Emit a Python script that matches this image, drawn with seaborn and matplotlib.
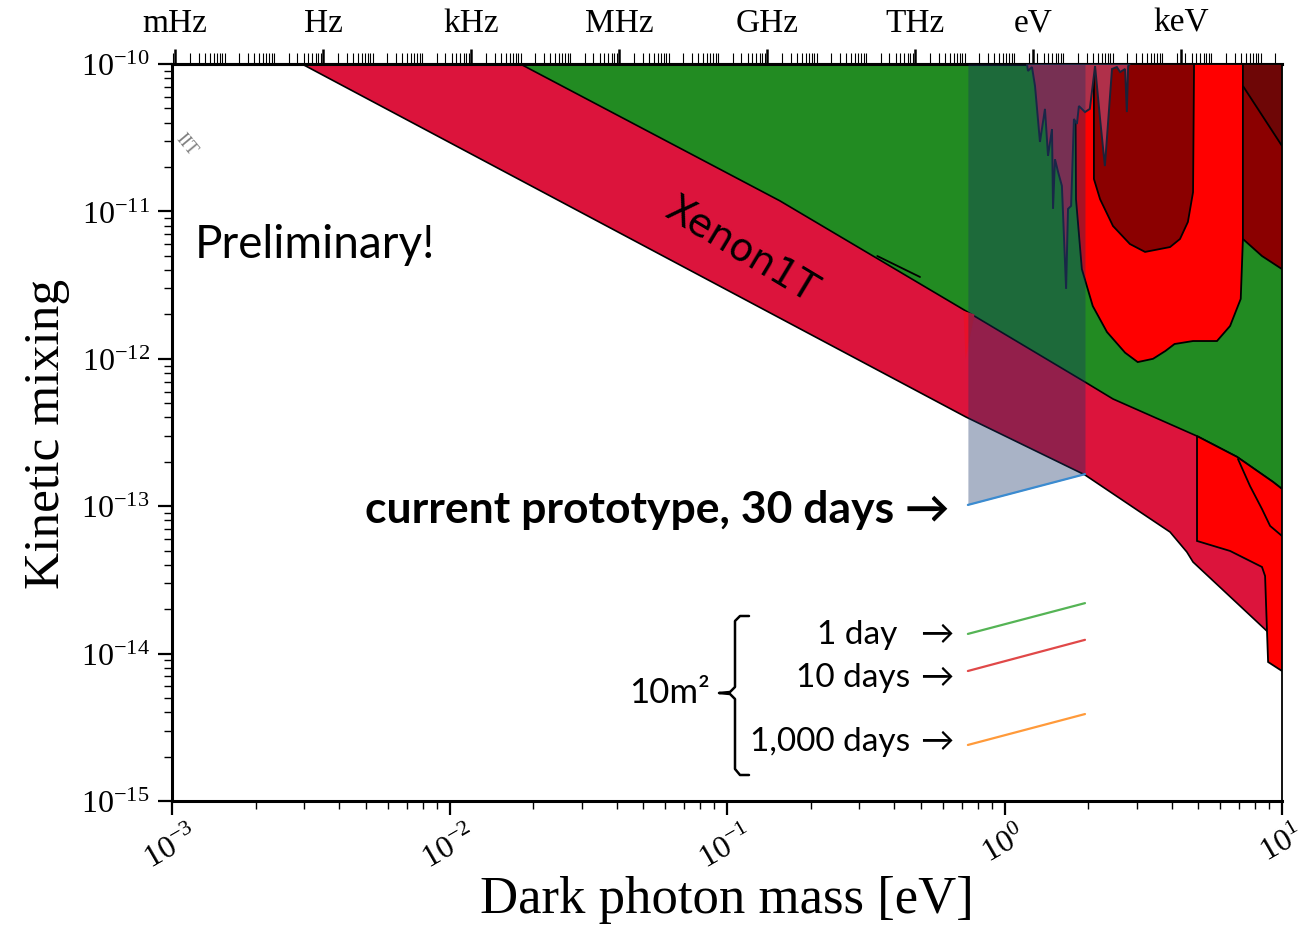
import numpy as np
import matplotlib
matplotlib.use("Agg")
import matplotlib.pyplot as plt
import seaborn as sns
from matplotlib.ticker import FixedLocator, FixedFormatter, LogLocator, NullFormatter

# ---- values (mass in eV, kinetic mixing) ----
# Xenon1T band
xenon_low_m = [2.94e-3, 0.726, 1.95, 3.08, 3.95, 4.54, 4.78, 8.83]
xenon_low_eps = [1e-10, 4.03e-13, 1.63e-13, 9.14e-14, 6.68e-14, 4.89e-14, 4.18e-14, 1.42e-14]
xenon_up_m = [1.80e-2, 0.155, 0.726, 1.95, 2.46, 4.94, 6.89, 9.29, 10.0]
xenon_up_eps = [1e-10, 1.18e-11, 2.11e-12, 6.96e-13, 5.34e-13, 2.99e-13, 2.16e-13, 1.46e-13, 1.31e-13]

# bright red U shaped limit
red_u_m = [1.80, 1.81, 1.90, 2.08, 2.34, 2.72, 3.02, 3.43, 3.80, 4.10, 4.78, 5.83, 6.50, 7.10, 7.23, 7.23]
red_u_eps = [1e-10, 1.21e-11, 4.06e-12, 2.28e-12, 1.52e-12, 1.10e-12, 9.5e-13, 1.0e-12,
             1.13e-12, 1.26e-12, 1.32e-12, 1.32e-12, 1.67e-12, 2.55e-12, 6.5e-12, 1e-10]

# dark red U inside it
dred_u_m = [2.10, 2.10, 2.21, 2.46, 2.83, 3.21, 3.95, 4.29, 4.58, 4.78, 4.82]
dred_u_eps = [1e-10, 1.66e-11, 1.21e-11, 7.96e-12, 6.01e-12, 5.31e-12, 5.73e-12, 6.5e-12,
              8.48e-12, 1.35e-11, 1e-10]

# strip at the right edge
strip_m = [7.23, 10.0, 10.0, 8.47, 7.23]
strip_eps = [1e-10, 1e-10, 4.06e-12, 4.98e-12, 6.5e-12]
corner_m = [7.23, 10.0, 10.0, 7.23]
corner_eps = [1e-10, 1e-10, 2.78e-11, 7.1e-11]

# red limit below the band at high mass
lowred_m = [4.94, 6.89, 9.29, 10.0, 10.0, 8.91, 8.83, 8.69, 8.47, 6.50, 5.37, 4.94]
lowred_eps = [2.99e-13, 2.16e-13, 1.46e-13, 1.31e-13, 7.62e-15, 8.77e-15, 1.42e-14, 3.36e-14,
              3.87e-14, 4.97e-14, 5.54e-14, 5.81e-14]
lowred_line_m = [6.94, 7.67, 8.47, 9.06, 10.0]
lowred_line_eps = [2.09e-13, 1.37e-13, 9.57e-14, 7.35e-14, 6.28e-14]

# spiky limit near 1 eV
spike_m = [1.205, 1.215, 1.256, 1.288, 1.342, 1.399, 1.435, 1.483, 1.496, 1.52, 1.56, 1.61,
           1.667, 1.694, 1.738, 1.779, 1.824, 1.854, 1.95, 2.03, 2.12, 2.21, 2.30, 2.44,
           2.54, 2.61, 2.72, 2.76, 2.79, 2.83]
spike_eps = [1e-10, 8.97e-11, 9.54e-11, 7.1e-11, 2.96e-11, 4.96e-11, 2.38e-11, 3.62e-11,
             1.04e-11, 2.26e-11, 1.85e-11, 1.49e-11, 2.98e-12, 1.04e-11, 1.09e-11, 4.24e-11,
             3.92e-11, 5.19e-11, 4.72e-11, 4.96e-11, 9.69e-11, 4.24e-11, 2.03e-11, 9.25e-11,
             9.54e-11, 8.82e-11, 9.25e-11, 4.72e-11, 9.69e-11, 1e-10]

red_sliver_m = [0.712, 0.78, 0.724]
red_sliver_eps = [2.11e-12, 2.0e-12, 1.0e-12]

small_seg_m = [0.348, 0.496]
small_seg_eps = [4.98e-12, 3.59e-12]

# projected sensitivities
proto_m = [0.738, 1.95]
proto_eps = [1.02e-13, 1.65e-13]
day1_eps = [1.36e-14, 2.20e-14]
day10_eps = [7.62e-15, 1.24e-14]
day1000_eps = [2.40e-15, 3.89e-15]

# top axis labels (frequency scale pasted from a wider plot)
freq_ticks = [1e-3, 1.0, 1e3, 1e6, 1e9, 1e12, 2.418e14, 2.418e17]
freq_labels = ["mHz", "Hz", "kHz", "MHz", "GHz", "THz", "eV", "keV"]

# ---- style ----
sns.set_style("ticks")
plt.rcParams["font.family"] = ["Liberation Serif", "DejaVu Serif"]
plt.rcParams["mathtext.fontset"] = "stix"
for key in ["text.color", "axes.labelcolor", "xtick.color", "ytick.color", "axes.edgecolor"]:
    plt.rcParams[key] = "black"
SANS = ["Lato", "DejaVu Sans"]

fig = plt.figure(figsize=(13.06, 9.29), dpi=100)
ax = fig.add_axes([172 / 1306, 1 - 802 / 929, 1110 / 1306, 737 / 929])
ax.set_xscale("log")
ax.set_yscale("log")

# ---- filled limits ----
ax.fill_between(xenon_up_m, xenon_up_eps, 1e-10, color="#228b22", lw=0, zorder=1)

band_m = [xenon_low_m[0]] + xenon_up_m + [10.0, 10.0] + xenon_low_m[::-1]
band_eps = [1e-10] + xenon_up_eps + [1.31e-13, 1.42e-14] + xenon_low_eps[::-1]
ax.fill(band_m, band_eps, color="#dc143c", lw=0, zorder=2)
ax.plot(xenon_low_m, xenon_low_eps, color="black", lw=1.2, zorder=2.2)
ax.plot(xenon_up_m, xenon_up_eps, color="black", lw=1.2, zorder=2.2)
ax.plot(small_seg_m, small_seg_eps, color="black", lw=1.3, zorder=2.2)

ax.fill(red_sliver_m, red_sliver_eps, color="#e8102a", lw=0, zorder=2.5)

ax.fill(red_u_m, red_u_eps, facecolor="#ff0000", edgecolor="black", lw=1.3, zorder=3)
ax.fill(dred_u_m, dred_u_eps, facecolor="#8b0000", edgecolor="black", lw=1.3, zorder=4)
ax.fill(strip_m, strip_eps, facecolor="#8b0000", edgecolor="black", lw=1.3, zorder=4)
ax.fill(corner_m, corner_eps, facecolor="#6e0606", edgecolor="black", lw=1.3, zorder=4.2)
ax.fill(lowred_m, lowred_eps, facecolor="#ff0000", edgecolor="black", lw=1.3, zorder=4)
ax.plot(lowred_line_m, lowred_line_eps, color="black", lw=1.3, zorder=4.3)

ax.fill(spike_m, spike_eps, facecolor="#b0304a", edgecolor="#1b2238", lw=1.4, zorder=5)

# current prototype shaded region
ax.fill_between(proto_m, proto_eps, 1e-10, color="#173265", alpha=0.37, lw=0, zorder=6)

# projection lines
sns.lineplot(x=proto_m, y=proto_eps, ax=ax, color="#3b8bd0", lw=1.6, zorder=7)
sns.lineplot(x=proto_m, y=day1_eps, ax=ax, color="#55b455", lw=1.6, zorder=7)
sns.lineplot(x=proto_m, y=day10_eps, ax=ax, color="#e04848", lw=1.6, zorder=7)
sns.lineplot(x=proto_m, y=day1000_eps, ax=ax, color="#ff9a3a", lw=1.6, zorder=7)

ax.set_xlim(1e-3, 10)
ax.set_ylim(1e-15, 1e-10)

# ---- axes and ticks ----
for side in ["left", "bottom", "top"]:
    ax.spines[side].set_linewidth(2.2)
ax.spines["right"].set_linewidth(1.3)
ax.tick_params(which="major", direction="out", length=10, width=1.6, labelsize=23,
               top=False, right=False, pad=4)
ax.tick_params(which="minor", direction="out", length=6, width=1.0, top=False, right=False)
ax.tick_params(axis="y", which="major", pad=6)
ax.xaxis.set_minor_formatter(NullFormatter())
ax.yaxis.set_minor_formatter(NullFormatter())
for lab in ax.get_xticklabels():
    lab.set_rotation(30)
    lab.set_ha("center")

ax.set_xlabel("Dark photon mass [eV]", fontsize=38)
ax.set_ylabel("Kinetic mixing", fontsize=37)
ax.xaxis.set_label_coords(0.5, -0.10)
ax.yaxis.set_label_coords(-0.092, 0.5)


def to_hz(m):
    m = np.clip(np.asarray(m, dtype=float), 1e-30, 1e30)
    return 10 ** 13.81 * np.power(m, 5.625)


def to_ev(f):
    f = np.clip(np.asarray(f, dtype=float), 1e-300, 1e300)
    return np.power(f / 10 ** 13.81, 1 / 5.625)


secax = ax.secondary_xaxis("top", functions=(to_hz, to_ev))
secax.xaxis.set_major_locator(FixedLocator(freq_ticks))
secax.xaxis.set_major_formatter(FixedFormatter(freq_labels))
secax.xaxis.set_minor_locator(LogLocator(base=10, subs=np.arange(1, 10), numticks=300))
secax.xaxis.set_minor_formatter(NullFormatter())
secax.tick_params(which="major", direction="out", length=11, width=1.8, labelsize=24, pad=8,
                  colors="black")
secax.tick_params(which="minor", direction="out", length=8, width=0.8, colors="black")
secax.spines["top"].set_linewidth(2.2)

# ---- annotations ----
def axpos(px, py):
    return (px - 172) / 1110, (802 - py) / 737


ax.text(*axpos(195, 245), "Preliminary!", family=SANS, fontsize=33, ha="left", va="center",
        transform=ax.transAxes, zorder=9)
ax.text(*axpos(742, 250), "Xenon1T", family=["DejaVu Sans"], fontsize=28, rotation=-31,
        ha="center", va="center", transform=ax.transAxes, zorder=9, rotation_mode="anchor")
ax.text(*axpos(950, 510), "current prototype, 30 days \u2192", family=SANS, fontsize=32,
        weight="bold", ha="right", va="center", transform=ax.transAxes, zorder=9)
ax.text(*axpos(897, 635), "1 day", family=SANS, fontsize=24, ha="right", va="center",
        transform=ax.transAxes, zorder=9)
ax.text(*axpos(910, 678), "10 days", family=SANS, fontsize=24, ha="right", va="center",
        transform=ax.transAxes, zorder=9)
ax.text(*axpos(910, 742), "1,000 days", family=SANS, fontsize=24, ha="right", va="center",
        transform=ax.transAxes, zorder=9)
for py in [635, 678, 742]:
    ax.text(*axpos(937, py), "\u2192", family=SANS, fontsize=24, ha="center", va="center",
            transform=ax.transAxes, zorder=9)
ax.text(*axpos(710, 693), "10m\u00b2", family=SANS, fontsize=25, ha="right", va="center",
        transform=ax.transAxes, zorder=9)

brace_px = [(749, 617), (740, 617), (735, 622), (735, 688), (730, 693), (719, 694),
            (730, 695), (735, 700), (735, 770), (740, 776), (749, 776)]
bx, by = zip(*[axpos(px, py) for px, py in brace_px])
ax.plot(bx, by, color="black", lw=1.8, transform=ax.transAxes, zorder=9, clip_on=False)

ax.text(*axpos(186, 145), "IIT", fontsize=13, color="gray", rotation=-50, ha="center",
        va="center", transform=ax.transAxes, zorder=9)

plt.savefig("out.png", dpi=100)
